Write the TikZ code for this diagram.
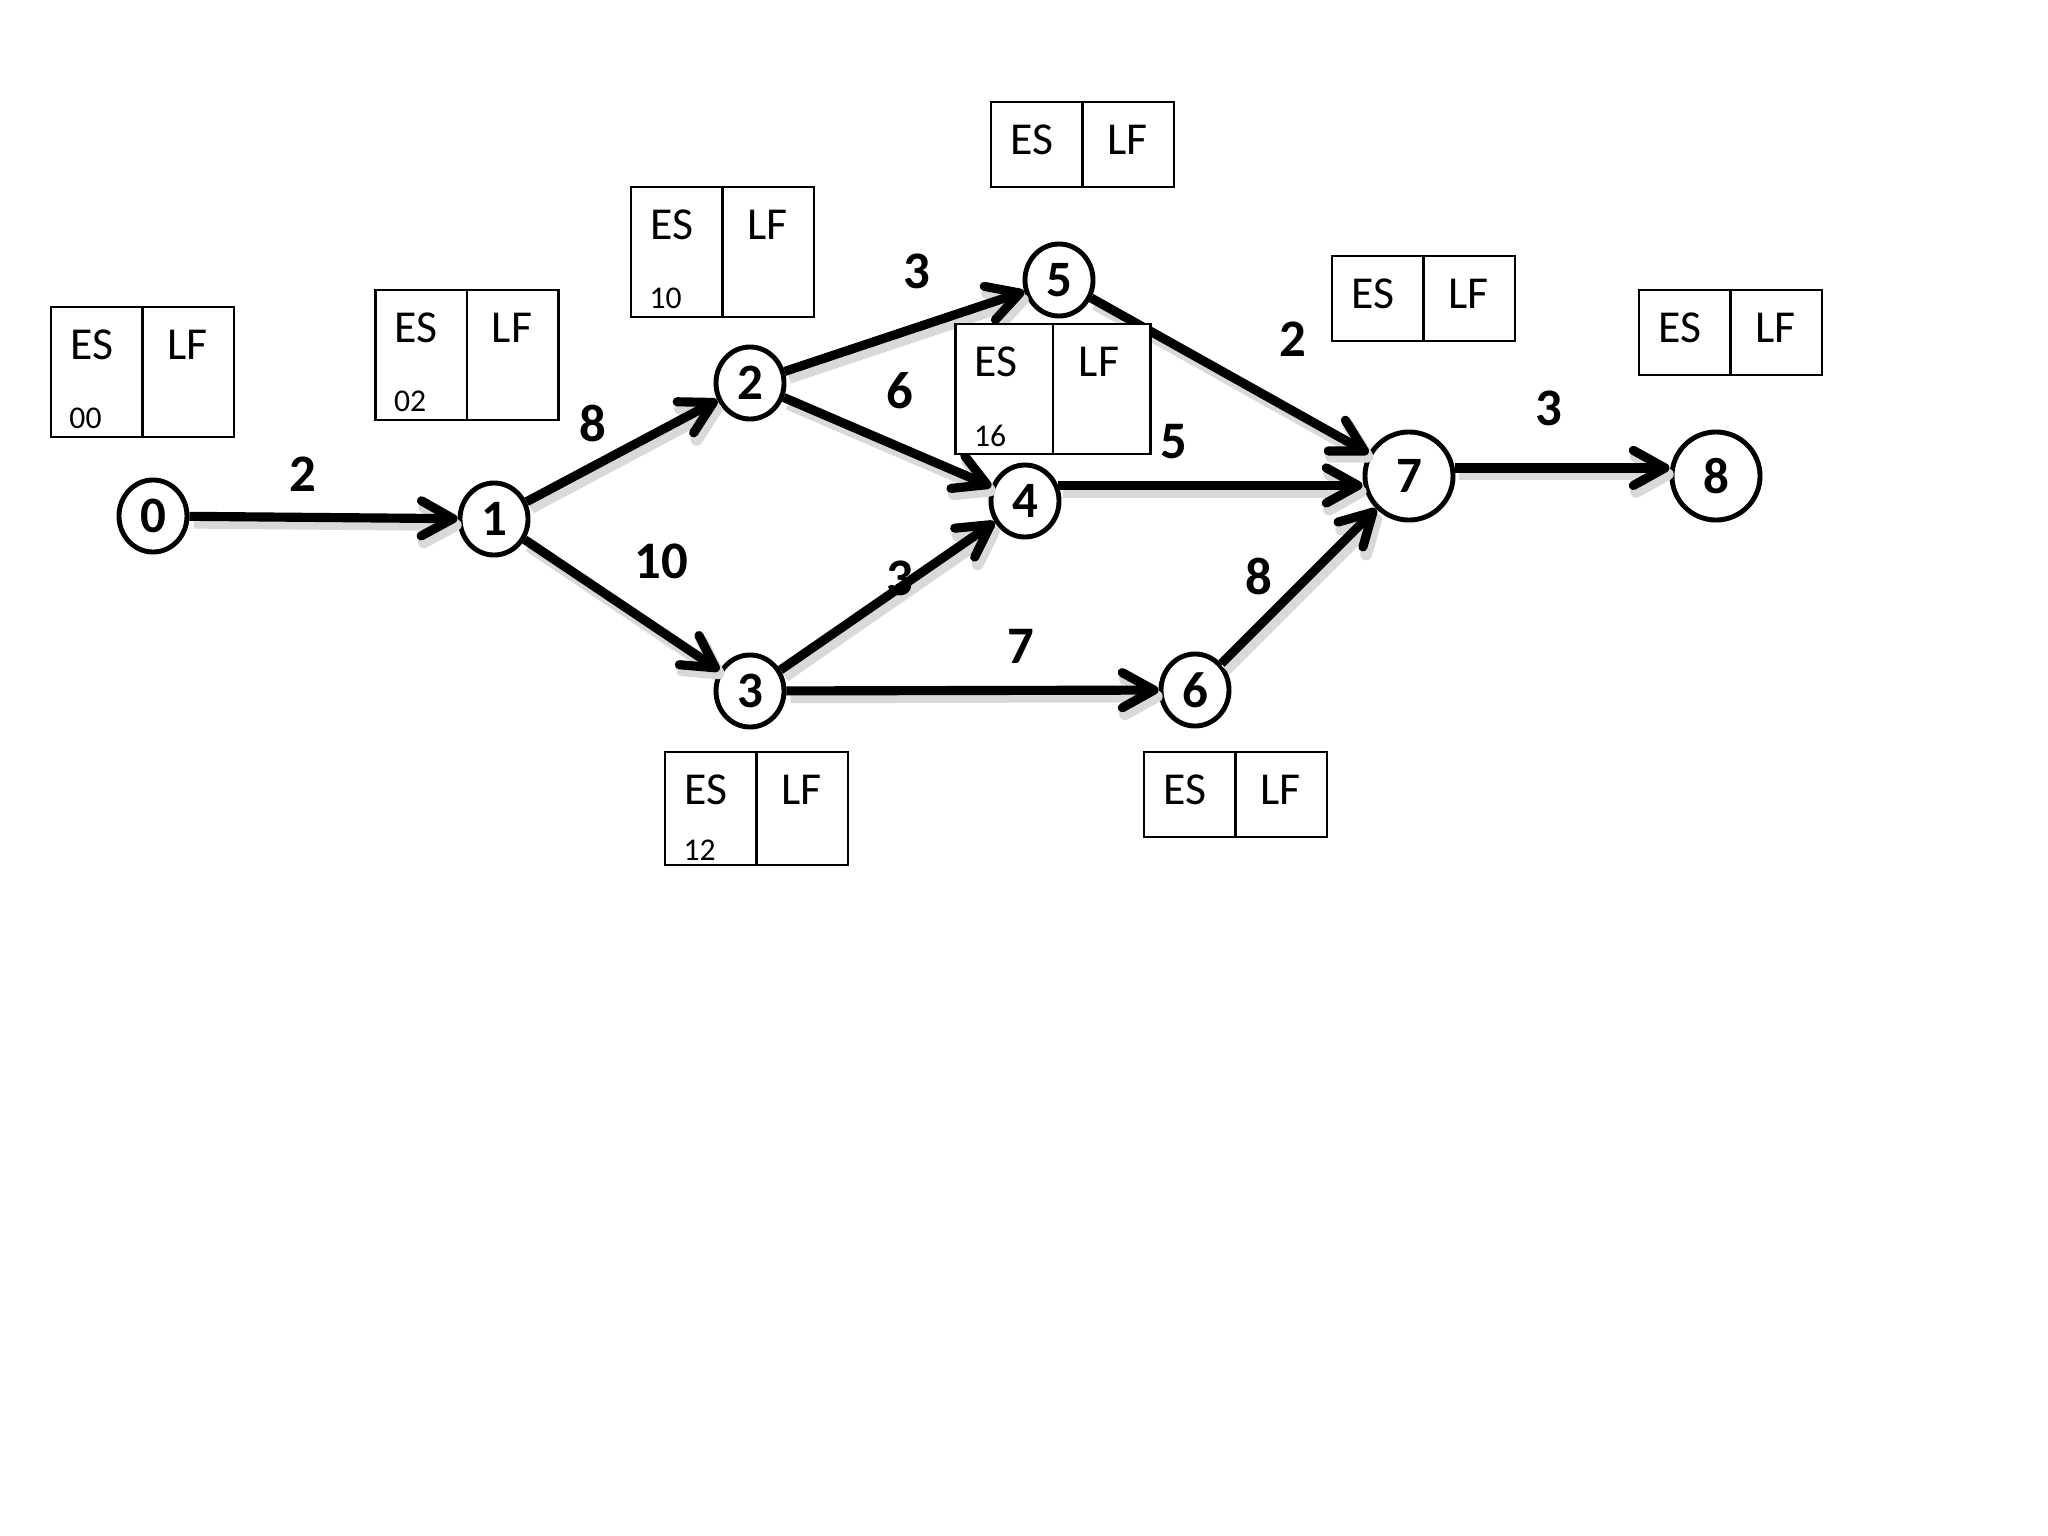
\documentclass[tikz,border=0pt]{standalone}
\usepackage{fontspec}
\setmainfont{Carlito}
\usetikzlibrary{arrows.meta,shapes.geometric,calc}
\begin{document}
\begin{tikzpicture}[x=0.01cm,y=-0.01cm,
  evt/.style={ellipse,draw,fill=white,line width=1.4pt,minimum width=0.68cm,minimum height=0.72cm,inner sep=0pt,font=\bfseries\fontsize{14.5}{16}\selectfont},
  bigevt/.style={evt,minimum width=0.88cm,minimum height=0.88cm},
  act/.style={line width=2.6pt,-{Straight Barb[length=9pt,width=10pt,round]},
    preaction={draw=black!15,line width=3.4pt,transform canvas={shift={(1.2pt,-1.8pt)}}}},
  dur/.style={font=\bfseries\fontsize{15}{17}\selectfont,inner sep=0pt},
  cell/.style={draw,fill=white,line width=0.8pt,rectangle,inner sep=0pt,minimum width=1.83cm},
  tall/.style={cell,minimum height=1.30cm},
  short/.style={cell,minimum height=0.85cm},
  boxline/.style={line width=0.8pt},
  bt/.style={font=\fontsize{13}{15}\selectfont,inner sep=0pt},
  st/.style={font=\fontsize{9}{11}\selectfont,inner sep=0pt}]
\useasboundingbox (0,0) rectangle (2048,1536);

% events
\node[evt] (n0) at (153,516) {0};
\node[evt] (n1) at (494,519) {1};
\node[evt] (n2) at (750,383) {2};
\node[evt] (n3) at (750,691) {3};
\node[evt] (n4) at (1025,501) {4};
\node[evt] (n5) at (1059,280) {5};
\node[evt] (n6) at (1195,690) {6};
\node[bigevt] (n7) at (1409,476) {7};
\node[bigevt] (n8) at (1716,476) {8};

% activities
\draw[act] (n0) -- (n1);
\draw[act] (n1) -- (n2);
\draw[act] (n1) -- (n3);
\draw[act] (n2) -- (n5);
\draw[act] (n2) -- (n4);
\draw[act] (n3) -- (n4);
\draw[act] (n3) -- (n6);
\draw[act] (n5) -- (n7);
\draw[act] (n4.25) -- (n7.west |- n4.25);
\draw[act] (n6) -- (n7);
\draw[act] (n7.10) -- (n8.west |- n7.10);

% durations
\node[dur] (d01) at (303,474) {2};
\node[dur] (d12) at (593,423) {8};
\node[dur] (d13) at (661,561) {10};
\node[dur] (d25) at (917,271) {3};
\node[dur] (d24) at (900,391) {6};
\node[dur] (d47) at (1174,442) {5};
\node[dur] (d34) at (900,578) {3};
\node[dur] (d36) at (1021,646) {7};
\node[dur] (d67) at (1259,576) {8};
\node[dur] (d57) at (1293,339) {2};
\node[dur] (d78) at (1549,408) {3};

% ES/LF boxes
\node[tall] (b0) at (142.5,372) {};
\draw[boxline] (b0.north) -- (b0.south);
\node[bt] (b0es) at ($(b0.north west)+(42,39)$) {ES};
\node[bt] (b0lf) at ($(b0.north east)+(-48,39)$) {LF};
\node[st] (b0v) at ($(b0.south west)+(36,-20)$) {00};

\node[tall] (b1) at (467,355) {};
\draw[boxline] (b1.north) -- (b1.south);
\node[bt] (b1es) at ($(b1.north west)+(42,39)$) {ES};
\node[bt] (b1lf) at ($(b1.north east)+(-48,39)$) {LF};
\node[st] (b1v) at ($(b1.south west)+(36,-20)$) {02};

\node[tall] (b2) at (722.5,252) {};
\draw[boxline] (b2.north) -- (b2.south);
\node[bt] (b2es) at ($(b2.north west)+(42,39)$) {ES};
\node[bt] (b2lf) at ($(b2.north east)+(-48,39)$) {LF};
\node[st] (b2v) at ($(b2.south west)+(36,-20)$) {10};

\node[short] (b5) at (1082.5,144.5) {};
\draw[boxline] (b5.north) -- (b5.south);
\node[bt] (b5es) at ($(b5.north west)+(42,39)$) {ES};
\node[bt] (b5lf) at ($(b5.north east)+(-48,39)$) {LF};

\node[tall,minimum width=1.95cm] (b4) at (1053,389) {};
\draw[boxline] (b4.north) -- (b4.south);
\node[bt] (b4es) at ($(b4.north west)+(42,39)$) {ES};
\node[bt] (b4lf) at ($(b4.north east)+(-53,39)$) {LF};
\node[st] (b4v) at ($(b4.south west)+(36,-20)$) {16};

\node[short] (b7) at (1423.5,298.5) {};
\draw[boxline] (b7.north) -- (b7.south);
\node[bt] (b7es) at ($(b7.north west)+(42,39)$) {ES};
\node[bt] (b7lf) at ($(b7.north east)+(-48,39)$) {LF};

\node[short] (b8) at (1730.5,332.5) {};
\draw[boxline] (b8.north) -- (b8.south);
\node[bt] (b8es) at ($(b8.north west)+(42,39)$) {ES};
\node[bt] (b8lf) at ($(b8.north east)+(-48,39)$) {LF};

\node[cell,minimum height=1.13cm] (b3) at (756.5,808.5) {};
\draw[boxline] (b3.north) -- (b3.south);
\node[bt] (b3es) at ($(b3.north west)+(42,39)$) {ES};
\node[bt] (b3lf) at ($(b3.north east)+(-48,39)$) {LF};
\node[st] (b3v) at ($(b3.south west)+(36,-16)$) {12};

\node[short] (b6) at (1235.5,794.5) {};
\draw[boxline] (b6.north) -- (b6.south);
\node[bt] (b6es) at ($(b6.north west)+(42,39)$) {ES};
\node[bt] (b6lf) at ($(b6.north east)+(-48,39)$) {LF};
\end{tikzpicture}
\end{document}
